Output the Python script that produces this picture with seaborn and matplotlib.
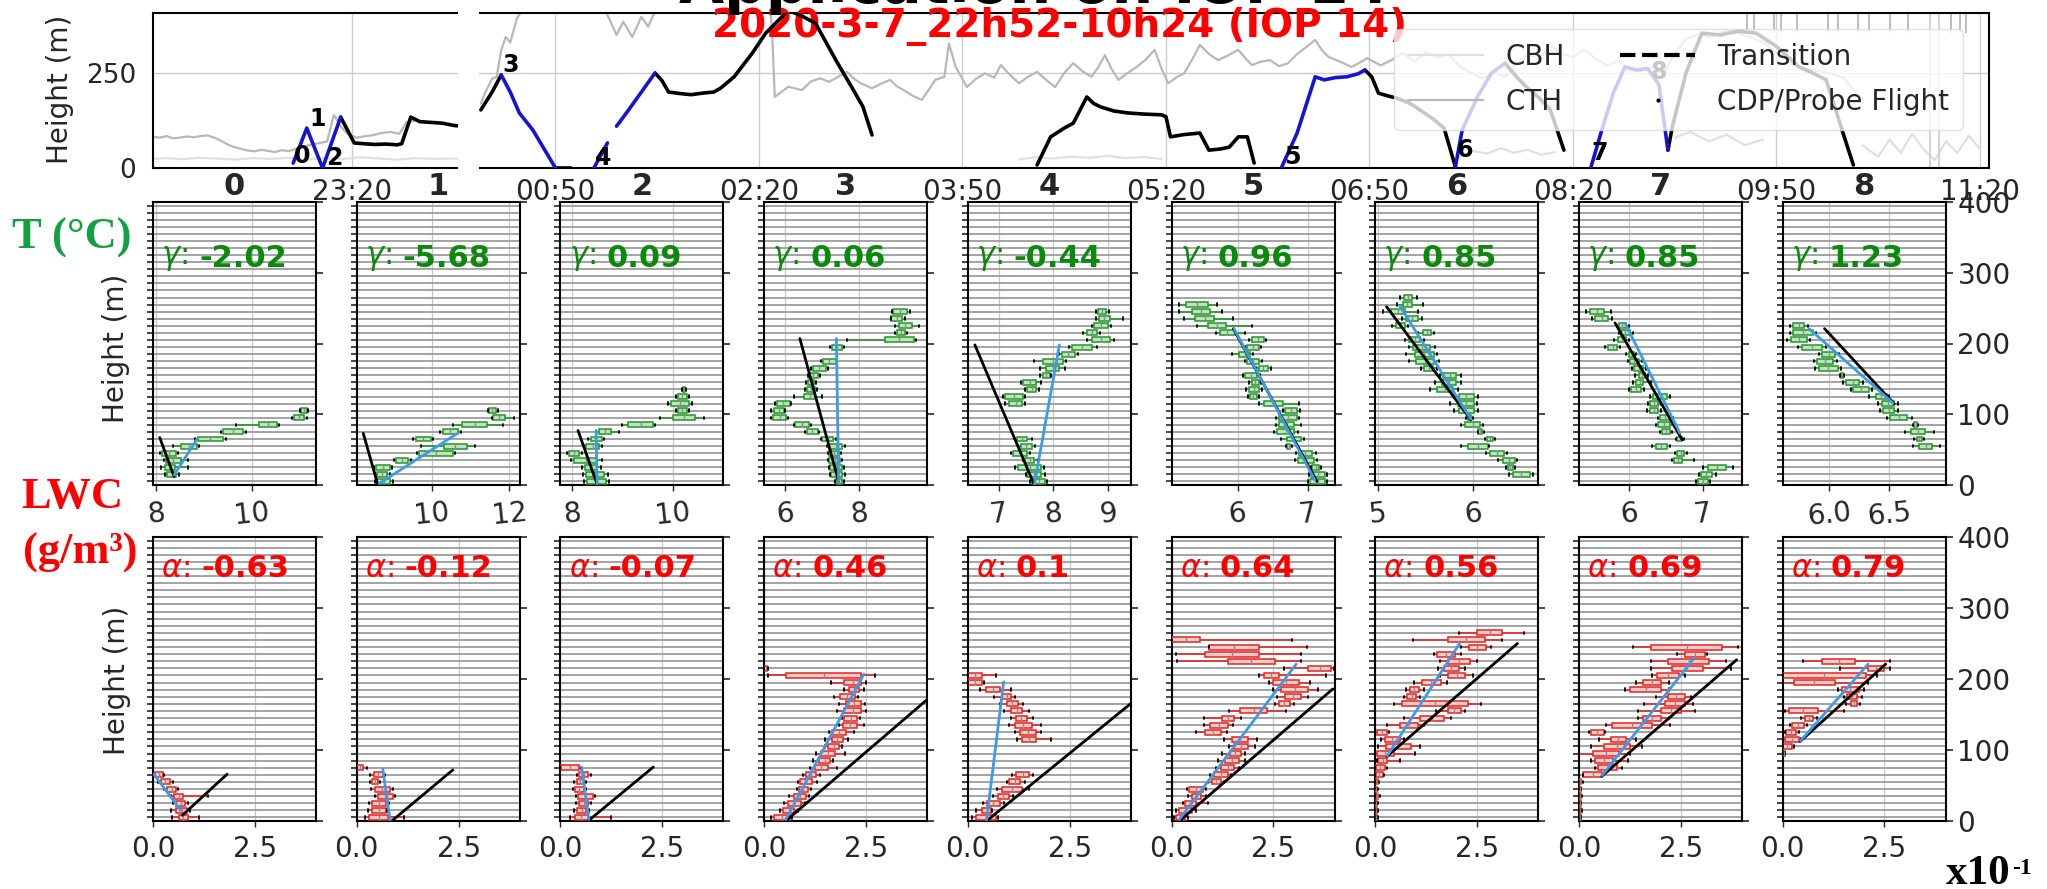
import numpy as np
import pandas as pd
import matplotlib
matplotlib.use("Agg")
import matplotlib.pyplot as plt
from matplotlib.lines import Line2D
from matplotlib.patches import Rectangle
import seaborn as sns

sns.set_theme(style="ticks")
plt.rcParams["font.family"] = ["DejaVu Sans"]
plt.rcParams["mathtext.fontset"] = "dejavusans"

# ---------------------------------------------------------------- flight track
TOP_TICKS = ["23:20", "00:50", "02:20", "03:50", "05:20", "06:50", "08:20", "09:50", "11:20"]
TOP_XRANGE = ["21:52", "11:24"]
TOP_YTICKS = [0, 250]

# probe profiles (blue)
PROF_A = [("22:54", 13), ("23:00", 105), ("23:07", 0), ("23:15", 134)]
PROF_B = [("00:26", 245), ("00:30", 200), ("00:34", 145), ("00:40", 100), ("00:45", 50), ("00:50", 0)]
PROF_C = [("01:07", 0), ("01:13", 66)]
PROF_D = [("01:17", 110), ("01:22", 150), ("01:28", 200), ("01:34", 250)]
PROF_E = [("06:11", 0), ("06:18", 92), ("06:26", 240), ("06:30", 232), ("06:35", 238),
          ("06:40", 240), ("06:45", 248), ("06:48", 258)]
PROF_F = [("07:28", 3), ("07:31", 100), ("07:38", 190), ("07:44", 250), ("07:50", 276)]
PROF_G = [("08:28", 3), ("08:33", 105), ("08:38", 200), ("08:43", 266), ("08:48", 258),
          ("08:53", 262), ("08:58", 220), ("09:02", 47)]

# transitions between profiles (black)
TRANS_A = [("23:15", 134), ("23:21", 66), ("23:25", 64), ("23:30", 62), ("23:35", 63), ("23:40", 61),
           ("23:42", 64), ("23:46", 134), ("23:50", 122), ("23:55", 120), ("00:00", 118),
           ("00:05", 112), ("00:07", 111)]
TRANS_B = [("00:17", 153), ("00:22", 200), ("00:26", 245)]
TRANS_C = [("00:50", 0), ("00:57", 0)]
TRANS_D = [("01:34", 250), ("01:37", 231), ("01:40", 200), ("01:45", 196), ("01:50", 193),
           ("01:55", 197), ("02:00", 200), ("02:03", 210), ("02:09", 240), ("02:17", 302),
           ("02:23", 355), ("02:33", 415), ("02:39", 400), ("02:45", 381), ("02:54", 284),
           ("03:01", 213), ("03:06", 161), ("03:10", 87)]
TRANS_E = [("04:23", 8), ("04:29", 82), ("04:35", 105), ("04:39", 118), ("04:45", 187), ("04:48", 170),
           ("04:51", 161), ("04:57", 150), ("05:03", 145), ("05:10", 142), ("05:18", 140),
           ("05:20", 135), ("05:22", 82), ("05:28", 88), ("05:35", 92), ("05:39", 47), ("05:44", 50),
           ("05:48", 55), ("05:52", 82), ("05:56", 82), ("05:59", 13)]
TRANS_F = [("06:48", 258), ("06:51", 240), ("06:54", 197), ("06:58", 190), ("07:02", 184),
           ("07:08", 170), ("07:13", 150), ("07:18", 130), ("07:23", 105), ("07:28", 3)]
TRANS_G = [("07:50", 276), ("07:55", 240), ("08:00", 210), ("08:05", 185), ("08:10", 153), ("08:16", 47)]
TRANS_H = [("09:02", 47), ("09:04", 110), ("09:10", 250), ("09:17", 355), ("09:25", 350),
           ("09:33", 360), ("09:41", 355), ("09:50", 320), ("10:00", 266), ("10:06", 250),
           ("10:12", 232), ("10:19", 100), ("10:24", 8)]

TRACK_LABELS = [("0", "22:58", 32), ("1", "23:05", 130), ("2", "23:12", 26), ("3", "00:30", 271),
                ("4", "01:11", 26), ("5", "06:16", 29), ("6", "07:32", 47), ("7", "08:32", 39),
                ("8", "08:58", 253)]

# cloud top / cloud base heights
CTH_A = [("21:52", 82), ("21:55", 80), ("21:58", 84), ("22:01", 78), ("22:04", 80), ("22:07", 83),
         ("22:10", 81), ("22:13", 84), ("22:16", 86), ("22:19", 80), ("22:22", 72), ("22:25", 62),
         ("22:28", 55), ("22:31", 50), ("22:34", 46), ("22:37", 44), ("22:40", 48), ("22:43", 45),
         ("22:46", 42), ("22:49", 47), ("22:52", 44), ("22:55", 50), ("22:58", 55), ("23:01", 60),
         ("23:05", 65), ("23:09", 70), ("23:12", 140), ("23:15", 110), ("23:18", 90), ("23:22", 80),
         ("23:26", 84), ("23:29", 86), ("23:33", 92), ("23:37", 95), ("23:41", 90), ("23:44", 120),
         ("23:48", 125), ("23:53", 120), ("23:58", 118), ("00:03", 115), ("00:07", 112)]
CTH_B = [("00:17", 170), ("00:19", 200), ("00:22", 235), ("00:24", 240), ("00:26", 310), ("00:28", 345),
         ("00:30", 330), ("00:33", 395), ("00:36", 420), ("00:45", 440), ("01:10", 440), ("01:14", 390),
         ("01:17", 350), ("01:20", 385), ("01:24", 345), ("01:28", 398), ("01:31", 372), ("01:35", 425),
         ("02:25", 440), ("02:26", 330), ("02:27", 187), ("02:33", 214), ("02:39", 205), ("02:43", 228),
         ("02:47", 236), ("02:51", 227), ("02:55", 240), ("02:59", 253), ("03:02", 235), ("03:05", 223),
         ("03:10", 210), ("03:14", 222), ("03:18", 232), ("03:21", 215), ("03:24", 205), ("03:28", 190),
         ("03:32", 179), ("03:35", 205), ("03:38", 232), ("03:42", 240), ("03:44", 328), ("03:47", 266),
         ("03:52", 213), ("03:56", 235), ("04:00", 249), ("04:04", 238), ("04:07", 271), ("04:11", 245),
         ("04:15", 223), ("04:19", 240), ("04:23", 253), ("04:27", 232), ("04:31", 213), ("04:35", 250),
         ("04:39", 276), ("04:43", 255), ("04:47", 240), ("04:50", 265), ("04:53", 297), ("04:56", 260),
         ("04:59", 232), ("05:03", 250), ("05:07", 266), ("05:11", 285), ("05:15", 311), ("05:18", 262),
         ("05:21", 223), ("05:25", 240), ("05:28", 249), ("05:32", 290), ("05:35", 324), ("05:39", 300),
         ("05:43", 284), ("05:47", 295), ("05:52", 311), ("05:55", 290), ("05:58", 271), ("06:02", 280),
         ("06:06", 284), ("06:10", 268), ("06:14", 276), ("06:18", 300), ("06:22", 318), ("06:26", 337),
         ("06:29", 310), ("06:32", 292), ("06:37", 280), ("06:42", 266), ("06:45", 275), ("06:49", 289),
         ("06:55", 270), ("07:00", 285), ("07:05", 302), ("07:10", 280), ("07:15", 305), ("07:20", 290),
         ("07:25", 300), ("07:30", 268), ("07:35", 250), ("07:40", 236), ("07:45", 252), ("07:50", 240),
         ("07:55", 272), ("08:00", 300), ("08:05", 288), ("08:10", 322), ("08:15", 300), ("08:20", 292),
         ("08:25", 312), ("08:30", 288), ("08:35", 270), ("08:40", 282), ("08:45", 260), ("08:50", 255),
         ("08:55", 266), ("09:00", 248), ("09:05", 300), ("09:10", 340), ("09:15", 352), ("09:20", 344),
         ("09:25", 356), ("09:30", 362), ("09:35", 350), ("09:40", 342), ("09:45", 328), ("09:50", 302),
         ("09:55", 281), ("10:00", 265), ("10:05", 258), ("10:10", 254), ("10:15", 247), ("10:20", 236),
         ("10:24", 205)]
CBH_A = [("21:52", 24), ("21:58", 26), ("22:05", 23), ("22:12", 27), ("22:20", 25), ("22:28", 22),
         ("22:36", 26), ("22:44", 24), ("22:52", 27), ("23:00", 23), ("23:08", 26), ("23:16", 24),
         ("23:24", 28), ("23:32", 25), ("23:40", 22), ("23:48", 26), ("23:56", 24), ("00:07", 25)]
CBH_B = [("04:15", 22), ("04:22", 28), ("04:30", 25), ("04:38", 30), ("04:46", 27), ("04:54", 32),
         ("05:02", 26), ("05:10", 29), ("05:18", 24)]
CBH_C = [("07:30", 30), ("07:36", 45), ("07:42", 38), ("07:48", 52), ("07:54", 40), ("08:00", 48),
         ("08:06", 35), ("08:12", 42)]
CBH_D = [("09:05", 80), ("09:12", 95), ("09:20", 70), ("09:28", 88), ("09:36", 60), ("09:44", 75)]
CBH_E = [("10:28", 60), ("10:35", 30), ("10:40", 75), ("10:45", 40), ("10:50", 90), ("10:55", 50),
         ("11:00", 20), ("11:05", 70), ("11:10", 40), ("11:15", 85), ("11:20", 50)]
SPIKES_SHORT = ["09:37", "09:40", "09:49", "09:52", "09:59", "10:13", "10:17", "10:26", "10:31",
                "10:40", "10:48", "11:07", "11:11", "11:14"]
SPIKES_LONG = ["10:58", "11:02"]

# ---------------------------------------------------------------- temperature profiles
# rows: (height m, whisker low, q1, q3, whisker high)
T0 = [(15, 8.18, 8.23, 8.42, 8.47), (25, 8.09, 8.17, 8.39, 8.65), (35, 8.15, 8.20, 8.51, 8.65),
      (45, 8.08, 8.12, 8.42, 8.46), (55, 8.35, 8.51, 8.84, 8.88), (65, 8.80, 8.87, 9.38, 9.45),
      (75, 9.35, 9.40, 9.81, 9.88), (85, 9.67, 10.14, 10.51, 10.56), (95, 10.83, 10.88, 11.07, 11.14),
      (105, 11.00, 11.02, 11.14, 11.16)]
T1 = [(5, 8.52, 8.57, 8.92, 8.98), (15, 8.52, 8.57, 8.84, 8.90), (25, 8.50, 8.55, 8.92, 8.96),
      (35, 9.02, 9.07, 9.38, 9.45), (45, 9.60, 9.67, 10.55, 10.60), (55, 9.72, 10.31, 10.90, 11.10),
      (65, 9.52, 9.58, 9.97, 10.02), (75, 10.20, 10.29, 10.66, 10.75), (85, 10.55, 10.78, 11.42, 11.83),
      (95, 11.55, 11.59, 11.88, 12.12), (105, 11.44, 11.48, 11.65, 11.72)]
T2 = [(5, 8.22, 8.29, 8.67, 8.72), (15, 8.20, 8.27, 8.62, 8.70), (25, 8.18, 8.24, 8.49, 8.56),
      (35, 7.98, 8.04, 8.49, 8.58), (45, 7.90, 7.94, 8.13, 8.18), (55, 8.22, 8.27, 8.53, 8.58),
      (65, 8.30, 8.36, 8.58, 8.63), (75, 8.47, 8.53, 8.76, 8.92), (85, 8.98, 9.11, 9.60, 9.64),
      (95, 9.73, 10.00, 10.44, 10.62), (105, 10.05, 10.09, 10.27, 10.31), (115, 9.90, 9.96, 10.31, 10.38),
      (125, 10.05, 10.09, 10.27, 10.32), (135, 10.18, 10.20, 10.24, 10.25)]
T3 = [(5, 7.35, 7.38, 7.54, 7.58), (15, 7.20, 7.24, 7.54, 7.62), (25, 7.18, 7.22, 7.54, 7.58),
      (35, 7.14, 7.18, 7.48, 7.52), (45, 7.14, 7.18, 7.45, 7.50), (55, 7.12, 7.18, 7.54, 7.62),
      (65, 6.95, 6.99, 7.30, 7.36), (75, 6.52, 6.57, 6.87, 6.92), (85, 6.22, 6.27, 6.63, 6.68),
      (95, 5.62, 5.66, 6.02, 6.06), (105, 5.62, 5.70, 5.96, 6.00), (115, 5.72, 5.76, 6.12, 6.16),
      (125, 6.24, 6.51, 6.81, 6.99), (135, 6.52, 6.57, 6.81, 6.86), (145, 6.56, 6.60, 6.77, 6.82),
      (155, 6.60, 6.63, 6.87, 6.93), (165, 6.70, 6.75, 7.09, 7.14), (175, 6.97, 7.02, 7.36, 7.40),
      (195, 7.22, 7.26, 7.54, 7.58), (205, 7.66, 8.69, 9.48, 9.54), (215, 8.97, 9.03, 9.24, 9.30),
      (225, 8.98, 9.08, 9.42, 9.62), (235, 8.85, 8.87, 9.17, 9.25), (245, 8.88, 8.91, 9.30, 9.37)]
T4 = [(5, 7.57, 7.61, 7.85, 7.88), (15, 7.50, 7.52, 7.77, 7.85), (25, 7.30, 7.36, 7.77, 7.82),
      (35, 7.44, 7.48, 7.65, 7.72), (45, 7.22, 7.26, 7.52, 7.58), (55, 7.36, 7.40, 7.61, 7.67),
      (65, 7.30, 7.34, 7.52, 7.60), (115, 7.12, 7.18, 7.43, 7.48), (125, 7.08, 7.11, 7.44, 7.48),
      (135, 7.48, 7.52, 7.69, 7.74), (145, 7.40, 7.44, 7.69, 7.78), (155, 7.76, 7.81, 7.93, 7.96),
      (165, 7.76, 7.87, 8.11, 8.22), (175, 7.65, 7.81, 8.18, 8.24), (185, 8.10, 8.16, 8.39, 8.45),
      (195, 8.28, 8.34, 8.71, 8.80), (205, 8.62, 8.71, 9.04, 9.12), (215, 8.55, 8.61, 8.80, 8.85),
      (225, 8.70, 8.75, 9.00, 9.06), (235, 8.79, 8.83, 9.03, 9.28), (245, 8.79, 8.81, 8.96, 9.02)]
T5 = [(5, 7.00, 7.03, 7.25, 7.28), (15, 7.02, 7.05, 7.24, 7.27), (25, 7.04, 7.06, 7.16, 7.19),
      (35, 6.82, 6.86, 7.09, 7.13), (45, 6.83, 6.87, 7.06, 7.12), (55, 6.69, 6.71, 6.75, 6.77),
      (65, 6.62, 6.70, 6.91, 6.94), (75, 6.52, 6.56, 6.81, 6.86), (85, 6.55, 6.59, 6.81, 6.90),
      (95, 6.55, 6.59, 6.84, 6.88), (105, 6.64, 6.68, 6.84, 6.89), (115, 6.30, 6.37, 6.65, 6.87),
      (125, 6.15, 6.18, 6.27, 6.30), (135, 6.12, 6.16, 6.30, 6.35), (145, 6.16, 6.20, 6.30, 6.34),
      (155, 6.08, 6.11, 6.27, 6.32), (165, 6.26, 6.30, 6.43, 6.48), (175, 6.10, 6.14, 6.30, 6.35),
      (185, 5.92, 6.02, 6.18, 6.22), (195, 6.10, 6.14, 6.30, 6.34), (205, 6.17, 6.21, 6.37, 6.41),
      (215, 5.70, 5.75, 5.96, 6.10), (225, 5.43, 5.58, 5.83, 6.21), (235, 5.24, 5.39, 5.67, 5.94),
      (245, 5.16, 5.35, 5.61, 5.78), (255, 5.17, 5.26, 5.58, 5.71)]
T6 = [(15, 6.38, 6.42, 6.60, 6.64), (25, 6.35, 6.37, 6.42, 6.44), (35, 6.27, 6.32, 6.44, 6.47),
      (45, 6.14, 6.18, 6.33, 6.36), (55, 5.88, 5.95, 6.16, 6.17), (65, 6.13, 6.15, 6.21, 6.23),
      (75, 6.05, 6.06, 6.10, 6.12), (85, 5.88, 5.92, 6.08, 6.11), (95, 5.93, 5.95, 5.98, 6.00),
      (105, 5.80, 5.85, 6.01, 6.06), (115, 5.76, 5.84, 6.01, 6.04), (125, 5.80, 5.85, 6.01, 6.06),
      (135, 5.55, 5.62, 5.79, 5.84), (145, 5.60, 5.67, 5.82, 5.88), (155, 5.65, 5.69, 5.82, 5.88),
      (165, 5.45, 5.49, 5.58, 5.62), (175, 5.33, 5.40, 5.59, 5.64), (185, 5.30, 5.39, 5.59, 5.62),
      (195, 5.33, 5.37, 5.55, 5.60), (205, 5.28, 5.33, 5.44, 5.48), (215, 5.42, 5.47, 5.56, 5.59),
      (225, 5.15, 5.19, 5.28, 5.32), (235, 5.25, 5.30, 5.42, 5.46), (245, 5.05, 5.14, 5.28, 5.42),
      (255, 5.20, 5.26, 5.36, 5.47), (265, 5.23, 5.27, 5.36, 5.41)]
T7 = [(5, 6.91, 6.94, 7.07, 7.10), (15, 6.95, 6.98, 7.12, 7.18), (25, 7.00, 7.07, 7.31, 7.41),
      (35, 6.58, 6.61, 6.72, 6.88), (45, 6.62, 6.65, 6.75, 6.78), (55, 6.31, 6.36, 6.51, 6.56),
      (65, 6.63, 6.65, 6.72, 6.74), (75, 6.42, 6.45, 6.55, 6.58), (85, 6.36, 6.39, 6.55, 6.63),
      (95, 6.39, 6.42, 6.55, 6.59), (105, 6.25, 6.28, 6.39, 6.43), (115, 6.26, 6.29, 6.39, 6.43),
      (125, 6.28, 6.32, 6.51, 6.55), (135, 6.00, 6.02, 6.16, 6.20), (145, 6.05, 6.10, 6.19, 6.30),
      (155, 6.08, 6.13, 6.22, 6.26), (165, 6.04, 6.07, 6.19, 6.23), (175, 5.98, 6.01, 6.13, 6.17),
      (185, 5.96, 6.00, 6.07, 6.10), (195, 5.68, 5.72, 5.84, 5.88), (205, 5.80, 5.85, 5.96, 6.00),
      (215, 5.86, 5.89, 6.01, 6.06), (225, 5.83, 5.86, 5.96, 6.00), (235, 5.50, 5.54, 5.72, 5.77),
      (245, 5.42, 5.47, 5.66, 5.75)]
T8 = [(55, 6.70, 6.75, 6.86, 6.92), (65, 6.71, 6.73, 6.77, 6.79), (75, 6.63, 6.68, 6.80, 6.87),
      (85, 6.70, 6.71, 6.73, 6.74), (95, 6.48, 6.51, 6.65, 6.69), (105, 6.42, 6.45, 6.54, 6.57),
      (115, 6.41, 6.44, 6.54, 6.57), (125, 6.33, 6.39, 6.48, 6.50), (135, 6.18, 6.20, 6.33, 6.36),
      (145, 6.11, 6.14, 6.25, 6.28), (155, 6.09, 6.10, 6.11, 6.12), (165, 5.88, 5.91, 6.07, 6.10),
      (175, 5.87, 5.90, 6.03, 6.06), (185, 5.91, 5.94, 6.05, 6.08), (195, 5.74, 5.77, 5.94, 5.97),
      (205, 5.65, 5.68, 5.81, 5.84), (215, 5.67, 5.70, 5.86, 5.89), (225, 5.67, 5.70, 5.79, 5.82)]

T_XLIM = [(7.93, 11.33), (8.05, 12.27), (7.76, 11.0), (5.42, 9.84), (6.43, 9.42),
          (5.06, 7.38), (4.97, 6.69), (5.32, 7.53), (5.61, 6.97)]
T_XTICKS = [[8, 10], [10, 12], [8, 10], [6, 8], [7, 8, 9], [6, 7], [5, 6], [6, 7], [6.0, 6.5]]
T_XTICKLABELS = [["8", "10"], ["10", "12"], ["8", "10"], ["6", "8"], ["7", "8", "9"],
                 ["6", "7"], ["5", "6"], ["6", "7"], ["6.0", "6.5"]]
T_FIT_BLACK = [[(8.07, 67), (8.37, 12)], [(8.22, 73), (8.60, 0)], [(8.11, 77), (8.49, 1)],
               [(6.39, 207), (7.44, 5)], [(6.56, 198), (7.65, 0)], [(5.94, 221), (7.13, 5)],
               [(5.09, 252), (5.98, 92)], [(5.81, 229), (6.72, 64)], [(5.96, 221), (6.54, 115)]]
T_FIT_BLUE = [[(8.37, 14), (8.84, 64)], [(8.63, 2), (10.66, 73)], [(8.47, 77), (8.49, 1)],
              [(7.38, 207), (7.44, 5)], [(8.11, 198), (7.65, 0)], [(5.95, 221), (7.10, 7)],
              [(5.23, 253), (5.98, 93)], [(5.95, 228), (6.69, 73)], [(5.83, 221), (6.53, 116)]]
GAMMA = ["-2.02", "-5.68", "0.09", "0.06", "-0.44", "0.96", "0.85", "0.85", "1.23"]

# ---------------------------------------------------------------- liquid water content profiles (x10^-1 g/m3)
L0 = [(5, 0.46, 0.63, 0.85, 1.13), (15, 0.45, 0.57, 0.83, 0.90), (25, 0.50, 0.57, 0.79, 0.85),
      (35, 0.45, 0.52, 0.74, 1.34), (45, 0.28, 0.35, 0.57, 0.62), (55, 0.12, 0.19, 0.41, 0.50),
      (65, 0.02, 0.06, 0.24, 0.28)]
L1 = [(5, 0.20, 0.31, 0.77, 1.15), (15, 0.28, 0.38, 0.71, 0.75), (25, 0.30, 0.38, 0.71, 0.80),
      (35, 0.45, 0.53, 0.88, 0.95), (45, 0.35, 0.44, 0.82, 0.88), (55, 0.33, 0.38, 0.53, 0.57),
      (65, 0.33, 0.42, 0.64, 0.70), (75, 0.00, 0.00, 0.16, 0.25)]
L2 = [(5, 0.24, 0.35, 0.68, 1.23), (15, 0.33, 0.41, 0.63, 0.70), (25, 0.38, 0.46, 0.68, 0.75),
      (35, 0.38, 0.44, 0.79, 0.85), (45, 0.30, 0.35, 0.57, 0.63), (55, 0.34, 0.41, 0.57, 0.62),
      (65, 0.40, 0.46, 0.68, 0.76), (75, 0.00, 0.02, 0.46, 0.50)]
L3 = [(5, 0.18, 0.25, 0.64, 0.68), (15, 0.40, 0.47, 0.73, 0.82), (25, 0.48, 0.58, 0.91, 1.00),
      (35, 0.62, 0.73, 1.02, 1.10), (45, 0.80, 0.86, 1.07, 1.14), (55, 0.82, 0.88, 1.18, 1.30),
      (65, 0.95, 1.02, 1.28, 1.37), (75, 1.13, 1.24, 1.57, 1.80), (85, 1.20, 1.35, 1.62, 1.70),
      (95, 1.28, 1.40, 1.73, 1.99), (105, 1.50, 1.57, 1.84, 1.90), (115, 1.50, 1.67, 1.93, 2.07),
      (125, 1.60, 1.67, 2.00, 2.20), (135, 1.85, 1.93, 2.28, 2.45), (145, 1.90, 1.97, 2.28, 2.35),
      (155, 1.80, 1.97, 2.39, 2.50), (165, 1.85, 2.01, 2.39, 2.48), (175, 1.72, 1.86, 2.22, 2.30),
      (185, 1.95, 2.08, 2.34, 2.45), (195, 1.65, 1.95, 2.39, 2.50), (205, 0.09, 0.53, 2.39, 2.72),
      (215, 0.00, 0.00, 0.08, 0.10)]
L4 = [(5, 0.10, 0.19, 0.68, 0.75), (15, 0.20, 0.35, 0.57, 0.60), (25, 0.38, 0.46, 0.79, 0.90),
      (35, 0.62, 0.74, 1.01, 1.10), (45, 0.72, 0.85, 1.34, 1.50), (55, 0.95, 1.01, 1.29, 1.40),
      (65, 1.08, 1.18, 1.51, 1.60), (115, 1.20, 1.34, 1.67, 2.05), (125, 1.15, 1.29, 1.67, 1.80),
      (135, 1.00, 1.15, 1.57, 1.80), (145, 1.05, 1.18, 1.45, 1.60), (155, 0.90, 1.07, 1.34, 1.50),
      (165, 0.80, 0.96, 1.23, 1.35), (175, 0.65, 0.85, 1.07, 1.15), (185, 0.30, 0.44, 0.79, 1.07),
      (195, 0.00, 0.00, 0.35, 0.40), (205, 0.00, 0.00, 0.35, 0.70)]
L5 = [(5, 0.05, 0.11, 0.33, 0.40), (15, 0.12, 0.19, 0.50, 0.60), (25, 0.28, 0.33, 0.61, 0.90),
      (35, 0.40, 0.50, 0.72, 0.85), (45, 0.38, 0.44, 0.77, 0.85), (55, 0.90, 0.99, 1.21, 1.30),
      (65, 0.95, 1.05, 1.38, 1.45), (75, 1.10, 1.21, 1.54, 1.65), (85, 1.15, 1.32, 1.65, 1.80),
      (95, 1.25, 1.43, 1.71, 1.80), (105, 1.40, 1.54, 1.87, 2.05), (115, 1.30, 1.49, 1.87, 2.10),
      (125, 0.60, 0.83, 1.21, 1.35), (135, 0.80, 0.94, 1.38, 1.50), (145, 0.80, 1.24, 1.54, 1.70),
      (155, 1.40, 1.68, 2.35, 2.80), (165, 2.55, 2.64, 2.90, 3.00), (175, 2.60, 2.79, 3.19, 3.35),
      (185, 2.50, 2.68, 3.36, 3.60), (195, 2.40, 2.48, 3.14, 3.40), (205, 2.15, 2.26, 2.64, 3.80),
      (215, 2.75, 3.36, 3.91, 3.98), (225, 0.14, 1.38, 2.53, 3.19), (235, 0.11, 0.83, 2.15, 3.19),
      (245, 0.91, 0.91, 2.15, 3.33), (255, 0.00, 0.00, 0.69, 2.96)]
L6 = [(5, 0.00, 0.00, 0.05, 0.08), (15, 0.00, 0.00, 0.04, 0.06), (25, 0.00, 0.00, 0.05, 0.08),
      (35, 0.00, 0.01, 0.08, 0.12), (45, 0.00, 0.00, 0.05, 0.07), (55, 0.00, 0.01, 0.08, 0.10),
      (65, 0.00, 0.02, 0.18, 0.22), (75, 0.00, 0.02, 0.23, 0.28), (85, 0.05, 0.07, 0.29, 0.61),
      (95, 0.00, 0.04, 0.45, 0.98), (105, 0.07, 0.26, 0.88, 1.09), (115, 0.15, 0.23, 0.61, 0.70),
      (125, 0.00, 0.04, 0.29, 0.35), (135, 0.29, 0.61, 1.04, 1.20), (145, 0.70, 1.09, 1.68, 1.85),
      (155, 1.50, 1.79, 2.10, 2.20), (165, 0.45, 0.66, 2.27, 2.59), (175, 0.70, 0.79, 1.00, 1.10),
      (185, 0.75, 0.85, 1.07, 1.20), (195, 0.95, 1.14, 1.62, 1.75), (205, 1.60, 1.79, 2.21, 2.40),
      (215, 1.55, 1.68, 2.05, 2.20), (225, 1.60, 1.79, 2.32, 2.50), (235, 1.45, 1.52, 1.97, 2.10),
      (245, 2.10, 2.29, 2.72, 2.85), (255, 0.93, 1.79, 2.69, 3.12), (265, 2.05, 2.50, 3.12, 3.65)]
L7 = [(5, 0.00, 0.00, 0.04, 0.06), (15, 0.00, 0.00, 0.05, 0.08), (25, 0.00, 0.00, 0.04, 0.06),
      (35, 0.00, 0.00, 0.05, 0.08), (45, 0.00, 0.00, 0.04, 0.06), (55, 0.00, 0.00, 0.06, 0.10),
      (65, 0.10, 0.11, 0.56, 0.60), (75, 0.40, 0.48, 0.94, 1.05), (85, 0.30, 0.40, 0.83, 1.20),
      (95, 0.00, 0.34, 0.99, 1.25), (105, 0.30, 0.61, 1.26, 1.55), (115, 0.50, 0.78, 1.16, 1.40),
      (125, 0.25, 0.29, 0.61, 0.65), (135, 0.67, 0.81, 1.80, 2.23), (145, 1.45, 1.58, 2.02, 2.20),
      (155, 1.45, 2.02, 2.50, 2.85), (165, 1.60, 2.12, 2.61, 2.80), (175, 1.90, 2.18, 2.61, 2.75),
      (185, 1.13, 1.26, 2.02, 2.20), (195, 1.40, 1.58, 2.02, 2.20), (205, 1.80, 1.91, 2.45, 2.60),
      (215, 1.78, 2.28, 3.04, 3.74), (225, 1.78, 2.18, 3.20, 3.60), (235, 2.40, 2.61, 3.09, 3.15),
      (245, 1.33, 1.78, 3.52, 3.90)]
L8 = [(95, 0.00, 0.00, 0.05, 0.06), (105, 0.00, 0.02, 0.22, 0.28), (115, 0.02, 0.05, 0.41, 0.45),
      (125, 0.05, 0.09, 0.32, 0.40), (135, 0.18, 0.24, 0.52, 0.60), (145, 0.45, 0.54, 0.75, 0.85),
      (155, 0.05, 0.16, 0.86, 1.51), (165, 1.55, 1.67, 1.83, 1.90), (175, 1.50, 1.59, 1.83, 1.95),
      (185, 1.35, 1.45, 1.88, 2.00), (195, 0.00, 0.27, 1.29, 2.10), (205, 0.00, 0.00, 2.05, 2.32),
      (215, 1.40, 2.10, 2.48, 2.63), (225, 0.49, 0.97, 1.78, 2.63)]

L_XLIM = (0.0, 4.0)
L_XTICKS = [0.0, 2.5]
L_XTICKLABELS = ["0.0", "2.5"]
L_FIT_BLACK = [[(0.72, 8), (1.82, 66)], [(0.86, 0), (2.36, 72)], [(0.68, 0), (2.28, 76)],
               [(0.53, 0), (3.98, 170)], [(0.46, 0), (3.99, 165)], [(0.19, 0), (3.96, 186)],
               [(0.29, 91), (3.49, 250)], [(0.56, 63), (3.87, 227)], [(0.43, 112), (2.53, 221)]]
L_FIT_BLUE = [[(0.02, 66), (0.68, 15)], [(0.64, 73), (0.82, 1)], [(0.52, 76), (0.70, 2)],
              [(0.53, 2), (2.45, 207)], [(0.46, 1), (0.88, 196)], [(0.19, 2), (3.06, 221)],
              [(0.30, 92), (2.07, 250)], [(0.57, 64), (2.82, 229)], [(0.44, 113), (2.10, 221)]]
ALPHA = ["-0.63", "-0.12", "-0.07", "0.46", "0.1", "0.64", "0.56", "0.69", "0.79"]

HEIGHT_MAJOR = [0, 100, 200, 300, 400]
HEIGHT_BINS = np.arange(5, 400, 10)

# ---------------------------------------------------------------- styling
BLUE_TRACK = "#1414d2"
CTH_COLOR = "#b8b8b8"
CBH_COLOR = "#e0e0e0"
FIT_BLUE = "#3b9be8"
T_GREEN = "#0a8a0a"
ROW_GREEN = "#12a040"
RED = "#ff0000"

W, H = 2047, 889
fig = plt.figure(figsize=(W / 100, H / 100), dpi=100)
fig.patch.set_facecolor("white")


def fx(px):
    return px / W


def fy(py):
    return 1 - py / H


def clock_to_min(s):
    h, m = map(int, s.split(":"))
    return h * 60 + m + (1440 if h < 12 else 0)


def draw_track(ax, pts, color, lw, z):
    xs = [clock_to_min(t) for t, _ in pts]
    ys = [v for _, v in pts]
    sns.lineplot(x=xs, y=ys, ax=ax, color=color, lw=lw, estimator=None, sort=False, zorder=z)


def style_spines(ax, lw=1.5):
    for sp in ax.spines.values():
        sp.set_color("black")
        sp.set_linewidth(lw)
        sp.set_visible(True)


# ---------------------------------------------------------------- top panel
ax0 = fig.add_axes([fx(153), fy(168), fx(1989) - fx(153), (168 - 13) / H])
for seg in (CTH_A, CTH_B):
    draw_track(ax0, seg, CTH_COLOR, 1.6, 2)
for seg in (CBH_A, CBH_B, CBH_C, CBH_D, CBH_E):
    draw_track(ax0, seg, CBH_COLOR, 1.6, 2)
ax0.vlines([clock_to_min(t) for t in SPIKES_SHORT], 355, 420, color=CTH_COLOR, lw=1.3, zorder=2)
ax0.vlines([clock_to_min(t) for t in SPIKES_LONG], 0, 420, color="#cfcfcf", lw=1.3, zorder=2)
for seg in (TRANS_A, TRANS_B, TRANS_C, TRANS_D, TRANS_E, TRANS_F, TRANS_G, TRANS_H):
    draw_track(ax0, seg, "black", 2.6, 4)
for seg in (PROF_A, PROF_B, PROF_C, PROF_D, PROF_E, PROF_F, PROF_G):
    draw_track(ax0, seg, BLUE_TRACK, 2.6, 4)
for lab, t, h in TRACK_LABELS:
    ax0.text(clock_to_min(t), h, lab, ha="center", va="center", fontsize=17,
             fontweight="bold", color="black", zorder=4)

ax0.set_xlim(clock_to_min(TOP_XRANGE[0]), clock_to_min(TOP_XRANGE[1]))
ax0.set_ylim(0, 408)
ax0.set_xticks([clock_to_min(t) for t in TOP_TICKS])
ax0.set_xticklabels(TOP_TICKS)
ax0.set_yticks(TOP_YTICKS)
ax0.set_xlabel("")
ax0.set_ylabel("")
ax0.tick_params(axis="x", length=0, labelsize=20, pad=7)
ax0.tick_params(axis="y", length=0, labelsize=19, pad=12)
ax0.grid(True, color="#cccccc", lw=1.0)
ax0.set_axisbelow(True)
style_spines(ax0)

handles = [Line2D([], [], color=CBH_COLOR, lw=1.6),
           Line2D([], [], color=CTH_COLOR, lw=1.6),
           Line2D([], [], color="black", lw=3, ls="--"),
           Line2D([], [], color="black", marker=".", ls="", markersize=4)]
labels = ["CBH", "CTH", "Transition", "CDP/Probe Flight"]
leg = ax0.legend(handles, labels, ncol=2, loc="upper right", bbox_to_anchor=(0.986, 0.895),
                 borderaxespad=0, fontsize=20, framealpha=0.78, edgecolor="#d8d8d8",
                 handlelength=2.7, columnspacing=2.0, handletextpad=0.8, borderpad=0.5,
                 labelspacing=0.6)
leg.set_zorder(6)

fig.text(fx(60), fy(89), "Height (m)", rotation=90, ha="center", va="center", fontsize=20)
ax0.text(fx(1060), fy(27), "2020-3-7_22h52-10h24 (IOP 14)", transform=fig.transFigure,
         ha="center", va="center", fontsize=28, fontweight="bold", color=RED, zorder=3,
         clip_on=False)
fig.text(fx(1034), fy(3), "Application on IOP 14", ha="center", va="baseline",
         fontsize=42, fontweight="bold", color="black")


# ---------------------------------------------------------------- profile panels
def draw_panel(ax, rows, fill, edge, fit_black, fit_blue, xlim, xticks, xticklabels,
               rot, symbol, value, note_y, note_color, last):
    recs = []
    for h, lo, q1, q3, hi in rows:
        med = 0.5 * (q1 + q3)
        recs += [(h, v) for v in (lo, q1, med, q3, hi)]
    df = pd.DataFrame(recs, columns=["height", "value"])
    sns.boxplot(data=df, x="value", y="height", orient="y", native_scale=True, whis=np.inf,
                width=0.7, ax=ax, showfliers=False, zorder=3,
                boxprops=dict(facecolor=fill, edgecolor=edge, linewidth=1.1),
                whiskerprops=dict(color=edge, linewidth=1.1),
                capprops=dict(color="black", linewidth=1.3),
                medianprops=dict(color="#8c8c8c", linewidth=1.0))
    for pts, col in ((fit_black, "black"), (fit_blue, FIT_BLUE)):
        sns.lineplot(x=[p[0] for p in pts], y=[p[1] for p in pts], ax=ax, color=col, lw=2,
                     estimator=None, sort=False, zorder=5)
    ax.set_xlim(*xlim)
    ax.set_ylim(0, 400)
    ax.set_xlabel("")
    ax.set_ylabel("")
    ax.set_xticks(xticks)
    ax.set_xticklabels(xticklabels, rotation=rot)
    ax.set_yticks(HEIGHT_MAJOR)
    ax.set_yticks(HEIGHT_BINS, minor=True)
    ax.tick_params(axis="y", which="major", left=False, right=True, labelleft=False,
                   labelright=last, length=5, width=1.2, labelsize=20, direction="out")
    ax.tick_params(axis="y", which="minor", left=True, right=False, length=4, width=1.2,
                   direction="out")
    ax.tick_params(axis="x", which="major", bottom=True, length=4, width=1.0, labelsize=20,
                   pad=6, direction="out")
    ax.grid(False)
    ax.grid(True, which="minor", axis="y", color="#9c9c9c", lw=1.3)
    ax.grid(True, which="major", axis="x", color="#c8c8c8", lw=0.9)
    ax.set_axisbelow(True)
    style_spines(ax)
    sym = ax.text(0.05, note_y - 15, symbol, transform=ax.get_yaxis_transform(), ha="left",
                  va="baseline", fontsize=22, color=note_color, zorder=6)
    ax.annotate(value, xy=(1, 0), xycoords=sym, xytext=(8, 0), textcoords="offset points",
                ha="left", va="bottom", fontsize=22, fontweight="bold", color=note_color,
                zorder=6, annotation_clip=False)


T_BOXES = [T0, T1, T2, T3, T4, T5, T6, T7, T8]
L_BOXES = [L0, L1, L2, L3, L4, L5, L6, L7, L8]

ax_last = None
for k in range(9):
    left = 153 + 203.7 * k
    axT = fig.add_axes([fx(left), fy(485), fx(163), (485 - 202) / H])
    draw_panel(axT, T_BOXES[k], "#bfe3bf", "#23962a", T_FIT_BLACK[k], T_FIT_BLUE[k],
               T_XLIM[k], T_XTICKS[k], T_XTICKLABELS[k], 6,
               r"$\gamma$:", GAMMA[k], 328, T_GREEN, k == 8)
    axT.set_title(str(k), fontsize=22, fontweight="bold", pad=5)

    axL = fig.add_axes([fx(left), fy(821), fx(163), (821 - 537) / H])
    draw_panel(axL, L_BOXES[k], "#f3cccc", "#e8221e", L_FIT_BLACK[k], L_FIT_BLUE[k],
               L_XLIM, L_XTICKS, L_XTICKLABELS, 0,
               r"$\alpha$:", ALPHA[k], 359, RED, k == 8)
    ax_last = axL

fig.text(fx(116), fy(348), "Height (m)", rotation=90, ha="center", va="center", fontsize=20)
fig.text(fx(117), fy(680), "Height (m)", rotation=90, ha="center", va="center", fontsize=20)

serif = ["Liberation Serif", "DejaVu Serif"]
fig.text(fx(72), fy(238), "T (°C)", ha="center", va="center", fontsize=32,
         fontweight="bold", color=ROW_GREEN, family=serif)
fig.text(fx(72), fy(497), "LWC", ha="center", va="center", fontsize=32,
         fontweight="bold", color=RED, family=serif)
fig.text(fx(80), fy(553), "(g/m³)", ha="center", va="center", fontsize=32,
         fontweight="bold", color=RED, family=serif)
scale_txt = fig.text(fx(1946), fy(884), "x10", ha="left", va="baseline", fontsize=31,
                     fontweight="bold", color="black", family=serif)
ax_last.annotate("-1", xy=(1, 0.92), xycoords=scale_txt, xytext=(1, 0), textcoords="offset points",
                 ha="left", va="top", fontsize=17, fontweight="bold", color="black",
                 family=serif, annotation_clip=False)

# blank strip across the top panel
fig.add_artist(Rectangle((fx(458), fy(177)), fx(21), 177 / H, transform=fig.transFigure,
                         facecolor="white", edgecolor="none", zorder=50))

fig.savefig("out.png", dpi=100, facecolor="white")
